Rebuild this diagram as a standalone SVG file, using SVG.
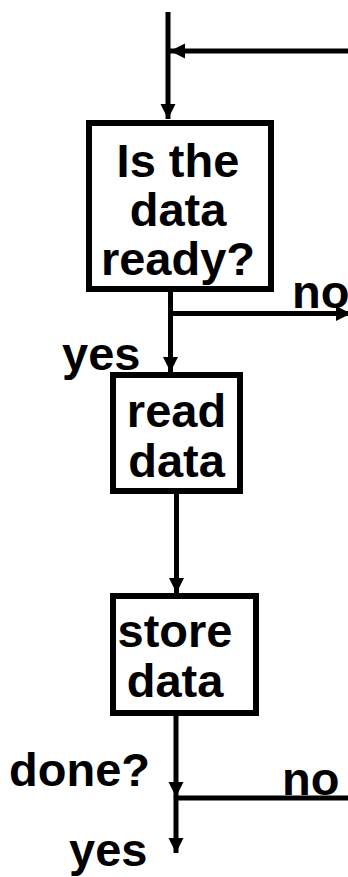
<svg xmlns="http://www.w3.org/2000/svg" width="348" height="877" viewBox="0 0 348 877">
  <defs>
    <marker id="arrow" markerUnits="userSpaceOnUse" markerWidth="16" markerHeight="16" refX="15" refY="7.5" orient="auto">
      <path d="M0,0 L15,7.5 L0,15 z" fill="#000"/>
    </marker>
    <style>
      .box { fill: #fff; stroke: #000; stroke-width: 6; }
      .lbl { font-family: "Liberation Sans", Arial, Helvetica, sans-serif; font-weight: bold; font-size: 47px; fill: #000; }
      .mid { text-anchor: middle; }
      .wire { fill: none; stroke: #000; stroke-width: 5; }
    </style>
  </defs>

  <rect width="348" height="877" fill="#fff"/>

  <!-- flow lines -->
  <g id="connectors">
    <path class="wire" d="M168,12 V119" marker-end="url(#arrow)"/>
    <path class="wire" d="M348,51 H170" marker-end="url(#arrow)"/>
    <path class="wire" d="M170.5,292 V372" marker-end="url(#arrow)"/>
    <path class="wire" d="M173,313.5 H351" marker-end="url(#arrow)"/>
    <path class="wire" d="M176.5,494 V593" marker-end="url(#arrow)"/>
    <path class="wire" d="M176,716 V797" marker-end="url(#arrow)"/>
    <path class="wire" d="M176,798 H348"/>
    <path class="wire" d="M176,796 V853" marker-end="url(#arrow)"/>
  </g>

  <g id="ready-check">
    <rect class="box" x="89" y="123" width="182" height="166"/>
    <text class="lbl mid" x="178" y="177">Is the</text>
    <text class="lbl mid" x="178" y="226">data</text>
    <text class="lbl mid" x="178" y="275">ready?</text>
  </g>

  <g id="read-data">
    <rect class="box" x="113" y="375" width="127" height="116"/>
    <text class="lbl mid" x="176.5" y="427">read</text>
    <text class="lbl mid" x="176.5" y="477">data</text>
  </g>

  <g id="store-data">
    <rect class="box" x="113" y="596" width="143" height="117"/>
    <text class="lbl mid" x="175" y="647">store</text>
    <text class="lbl mid" x="175" y="697">data</text>
  </g>

  <g id="labels">
    <text class="lbl" x="292" y="308">no</text>
    <text class="lbl" x="62" y="370">yes</text>
    <text class="lbl" x="9" y="786">done?</text>
    <text class="lbl" x="282" y="795">no</text>
    <text class="lbl" x="69" y="866">yes</text>
  </g>
</svg>
